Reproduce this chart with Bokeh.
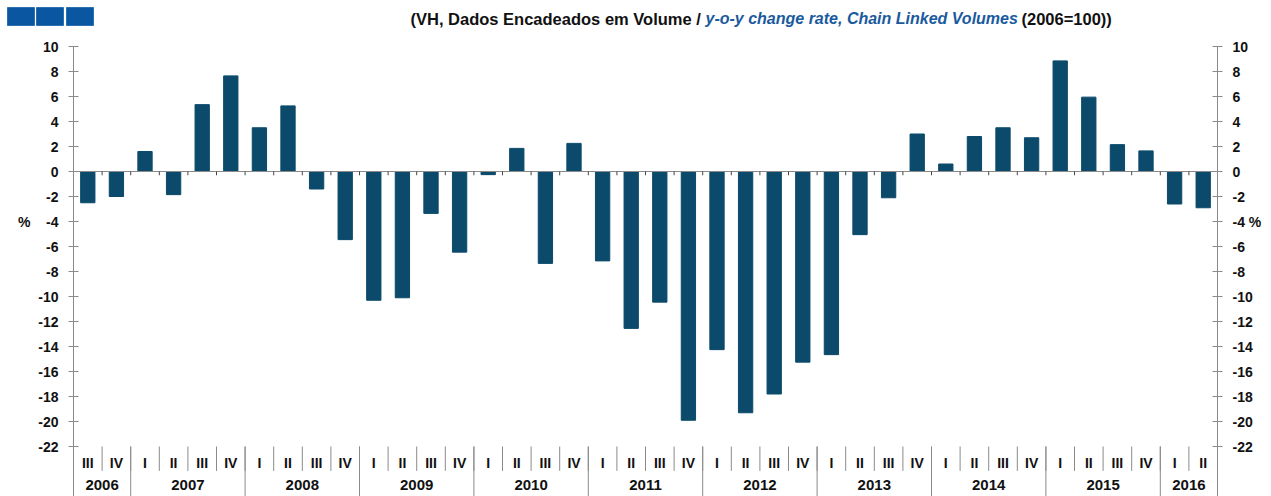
from bokeh.plotting import figure
from bokeh.models import (Range1d, LinearAxis, FixedTicker, ColumnDataSource)
from bokeh.core.properties import value
from bokeh.embed import file_html
from bokeh.resources import INLINE

# ---------------- data ----------------
quarters = ["III", "IV",
            "I", "II", "III", "IV",
            "I", "II", "III", "IV",
            "I", "II", "III", "IV",
            "I", "II", "III", "IV",
            "I", "II", "III", "IV",
            "I", "II", "III", "IV",
            "I", "II", "III", "IV",
            "I", "II", "III", "IV",
            "I", "II", "III", "IV",
            "I", "II"]
years = ["2006", "2007", "2008", "2009", "2010", "2011", "2012", "2013", "2014", "2015", "2016"]
quarters_per_year = [2, 4, 4, 4, 4, 4, 4, 4, 4, 4, 2]
values = [-2.5, -2.0,
          1.6, -1.85, 5.35, 7.65,
          3.5, 5.25, -1.4, -5.45,
          -10.3, -10.1, -3.35, -6.45,
          -0.25, 1.85, -7.35, 2.25,
          -7.15, -12.55, -10.45, -19.9,
          -14.25, -19.3, -17.8, -15.25,
          -14.65, -5.05, -2.1, 3.0,
          0.6, 2.8, 3.5, 2.7,
          8.85, 5.95, 2.15, 1.65,
          -2.6, -2.9]
y_ticks = [10, 8, 6, 4, 2, 0, -2, -4, -6, -8, -10, -12, -14, -16, -18, -20, -22]
title_parts = ["(VH, Dados Encadeados em Volume / ",
               "y-o-y change rate, Chain Linked Volumes",
               "(2006=100))"]

BAR = "#0b4a6b"
AXIS = "#8a8a8a"
FONT = "Liberation Sans"
NB = "\u00a0"
n = len(values)

# ---------------- header ----------------
hdr = figure(width=1271, height=38, x_range=Range1d(0, 1271), y_range=Range1d(38, 0),
             output_backend="svg", toolbar_location=None, min_border=0,
             x_axis_location=None, y_axis_location=None)
hdr.outline_line_color = None
hdr.xgrid.visible = False
hdr.ygrid.visible = False
hdr.quad(left=[7, 36, 66], right=[34, 63, 93], top=[7, 7, 7], bottom=[25, 25, 25],
         fill_color="#0a56a0", line_color="#2a6fb0", line_width=1)
hdr.text(x=[410], y=[18], text=[title_parts[0]],
         text_font=value(FONT), text_font_size="16.5px", text_font_style="bold",
         text_color="#111111", text_baseline="middle", text_align="left")
hdr.text(x=[705], y=[18], text=[title_parts[1]],
         text_font=value(FONT), text_font_size="16px", text_font_style="bold italic",
         text_color="#1a5a9e", text_baseline="middle", text_align="left")
hdr.text(x=[1021], y=[18], text=[title_parts[2]],
         text_font=value(FONT), text_font_size="16.5px", text_font_style="bold",
         text_color="#111111", text_baseline="middle", text_align="left")

# ---------------- main ----------------
px_per_unit = 12.5
fig_h = 458
top_border = 8
y_bottom = 10 - (fig_h - top_border) / px_per_unit

p = figure(width=1271, height=fig_h, x_range=Range1d(-0.5, n - 0.5),
           y_range=Range1d(y_bottom, 10),
           output_backend="svg", toolbar_location=None,
           x_axis_location=None, y_axis_location="left",
           min_border_left=73, min_border_right=54, min_border_top=top_border, min_border_bottom=0)
p.outline_line_color = None
p.xgrid.visible = False
p.ygrid.visible = False

xs = list(range(n))
src = ColumnDataSource(dict(x=xs, top=values))
p.vbar(x="x", top="top", bottom=0, width=0.5, source=src,
       fill_color=BAR, line_color=BAR, line_width=1)

# zero line with small ticks at category boundaries
p.segment(x0=[-0.5], y0=[0], x1=[n - 0.5], y1=[0], line_color=AXIS, line_width=1)
bnd = [i + 0.5 for i in range(n - 1)]
p.segment(x0=bnd, y0=[0] * len(bnd), x1=bnd, y1=[-0.3] * len(bnd), line_color="#444444", line_width=1)

# category labels area
p.segment(x0=bnd, y0=[-22] * len(bnd), x1=bnd, y1=[-23.95] * len(bnd),
          line_color=AXIS, line_width=1)
starts = []
acc = 0
for c in quarters_per_year:
    starts.append(acc)
    acc += c
y_sep = [s - 0.5 for s in starts[1:]]
p.segment(x0=y_sep, y0=[-22] * len(y_sep), x1=y_sep, y1=[y_bottom] * len(y_sep),
          line_color=AXIS, line_width=1)
p.text(x=xs, y=[-23.3] * n, text=quarters, text_font=value(FONT), text_font_size="14px",
       text_font_style="bold", text_color="#111111", text_align="center", text_baseline="middle")
year_x = [s + (c - 1) / 2 for s, c in zip(starts, quarters_per_year)]
p.text(x=year_x, y=[-25.1] * len(years), text=years, text_font=value(FONT), text_font_size="15px",
       text_font_style="bold", text_color="#111111", text_align="center", text_baseline="middle")

# axes
right = LinearAxis()
p.add_layout(right, "right")
left_over = {t: str(t) for t in y_ticks}
left_over[-4] = "%" + NB * 4 + "-4"
right_over = {t: str(t) for t in y_ticks}
right_over[-4] = "-4" + NB + "%"
for ax, ov in ((p.yaxis[0], left_over), (right, right_over)):
    ax.ticker = FixedTicker(ticks=y_ticks)
    ax.major_label_overrides = ov
    ax.axis_line_color = AXIS
    ax.major_tick_line_color = AXIS
    ax.minor_tick_line_color = None
    ax.major_tick_in = 5
    ax.major_tick_out = 5
    ax.major_label_standoff = 10
    ax.major_label_text_font = FONT
    ax.major_label_text_font_size = "14px"
    ax.major_label_text_font_style = "bold"
    ax.major_label_text_color = "#111111"

open("out.html", "w").write(file_html([hdr, p], INLINE))
